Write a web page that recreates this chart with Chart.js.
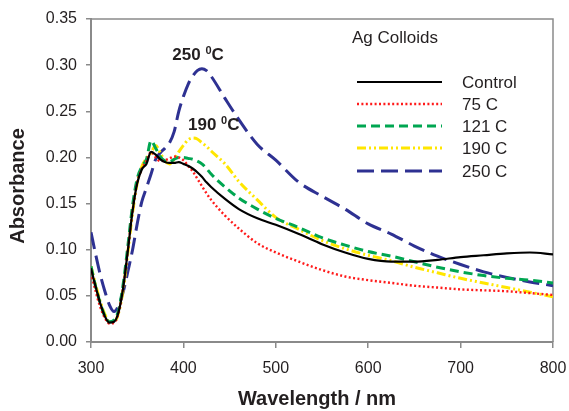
<!DOCTYPE html>
<html>
<head>
<meta charset="utf-8">
<script src="https://cdn.jsdelivr.net/npm/chart.js@4.4.0/dist/chart.umd.min.js"></script>
<style>
  html, body { margin: 0; padding: 0; background: #ffffff; }
  canvas { display: block; }
</style>
</head>
<body>
<canvas id="chart" width="569" height="411"></canvas>
<script>
// Wavelength grid (nm) shared by every spectrum
const wavelengths = [300, 305, 310, 315, 320, 325, 330, 335, 340, 345, 350, 355, 360, 365, 370, 375,
  380, 385, 390, 395, 400, 405, 410, 415, 420, 425, 430, 445, 460, 480, 500, 525, 550, 575, 600,
  625, 650, 675, 700, 725, 750, 775, 800];

// Absorbance of each Ag colloid sample
const control = [0.080, 0.060, 0.042, 0.028, 0.021, 0.022, 0.033, 0.060, 0.100, 0.142, 0.172, 0.187, 0.193,
  0.206, 0.203, 0.198, 0.195, 0.194, 0.194, 0.195, 0.193, 0.191, 0.188, 0.184, 0.179, 0.173, 0.168,
  0.155, 0.144, 0.134, 0.127, 0.117, 0.106, 0.097, 0.090, 0.087, 0.087, 0.089, 0.092, 0.094, 0.096, 0.097, 0.095];
const c75 = [0.075, 0.055, 0.038, 0.026, 0.020, 0.021, 0.032, 0.060, 0.100, 0.142, 0.172, 0.188, 0.196,
  0.206, 0.200, 0.196, 0.197, 0.199, 0.201, 0.200, 0.197, 0.191, 0.185, 0.177, 0.169, 0.161, 0.154,
  0.137, 0.123, 0.107, 0.097, 0.087, 0.078, 0.071, 0.067, 0.064, 0.061, 0.059, 0.057, 0.056, 0.055, 0.053, 0.051];
const c121 = [0.082, 0.060, 0.042, 0.028, 0.022, 0.024, 0.035, 0.064, 0.105, 0.148, 0.177, 0.190, 0.198,
  0.218, 0.210, 0.201, 0.196, 0.195, 0.198, 0.200, 0.200, 0.199, 0.198, 0.196, 0.193, 0.188, 0.182,
  0.168, 0.156, 0.144, 0.134, 0.124, 0.113, 0.105, 0.098, 0.093, 0.087, 0.081, 0.076, 0.072, 0.069, 0.067, 0.064];
const c190 = [0.082, 0.062, 0.044, 0.030, 0.022, 0.022, 0.032, 0.058, 0.098, 0.140, 0.172, 0.190, 0.199,
  0.205, 0.213, 0.205, 0.196, 0.193, 0.198, 0.206, 0.213, 0.219, 0.221, 0.220, 0.216, 0.212, 0.207,
  0.193, 0.174, 0.154, 0.135, 0.122, 0.110, 0.101, 0.094, 0.088, 0.081, 0.075, 0.069, 0.064, 0.059, 0.054, 0.049];
const c250 = [0.119, 0.095, 0.073, 0.055, 0.040, 0.033, 0.040, 0.055, 0.077, 0.100, 0.128, 0.152, 0.167,
  0.182, 0.198, 0.205, 0.210, 0.216, 0.228, 0.250, 0.266, 0.279, 0.288, 0.294, 0.296, 0.294, 0.288,
  0.264, 0.241, 0.214, 0.197, 0.173, 0.158, 0.144, 0.128, 0.117, 0.104, 0.093, 0.084, 0.076, 0.070, 0.065, 0.061];

const seriesNames = ['Control', '75 C', '121 C', '190 C', '250 C'];
const seriesValues = [control, c75, c121, c190, c250];

// Axis ranges and ticks
const xTicks = [300, 400, 500, 600, 700, 800];
const yTicks = [0.00, 0.05, 0.10, 0.15, 0.20, 0.25, 0.30, 0.35];

// Peak labels
const peakLabels = [
  { main: '250 ', sup: '0', unit: 'C', x: 388, y: 0.3055 },
  { main: '190 ', sup: '0', unit: 'C', x: 405, y: 0.2297 }
];

const FONT = "'Liberation Sans', Arial, Helvetica, sans-serif";
const AXIS = '#8a8a8a';
const TEXT = '#231f20';

const styles = [
  { color: '#000000', width: 2.2, dash: [] },
  { color: '#ff1a1a', width: 2.4, dash: [2, 2.4] },
  { color: '#00a651', width: 3, dash: [9, 5] },
  { color: '#ffe600', width: 3, dash: [9, 3, 2, 3, 2, 3] },
  { color: '#2e3192', width: 3, dash: [17, 7] }
];

const datasets = seriesNames.map((name, i) => ({
  label: name,
  data: wavelengths.map((w, j) => ({ x: w, y: seriesValues[i][j] })),
  borderColor: styles[i].color,
  borderWidth: styles[i].width,
  borderDash: styles[i].dash,
  pointRadius: 0,
  fill: false,
  cubicInterpolationMode: 'monotone'
}));

// Frame, axis titles, legend box and peak annotations
const decorations = {
  id: 'decorations',
  beforeDatasetsDraw(chart) {
    const { ctx, chartArea: a } = chart;
    ctx.save();
    ctx.strokeStyle = AXIS;
    ctx.lineWidth = 1.5;
    ctx.beginPath();
    ctx.moveTo(a.left, a.top);
    ctx.lineTo(a.right, a.top);
    ctx.lineTo(a.right, a.bottom);
    ctx.stroke();
    ctx.restore();
  },
  afterDraw(chart) {
    const { ctx, scales } = chart;
    ctx.save();
    ctx.fillStyle = TEXT;

    // axis titles
    ctx.font = 'bold 20px ' + FONT;
    ctx.textAlign = 'center';
    ctx.textBaseline = 'middle';
    ctx.fillText('Wavelength / nm', 317, 399);
    ctx.save();
    ctx.translate(18, 186);
    ctx.rotate(-Math.PI / 2);
    ctx.fillText('Absorbance', 0, 0);
    ctx.restore();

    // legend
    ctx.textAlign = 'left';
    ctx.font = '17px ' + FONT;
    ctx.fillText('Ag Colloids', 352, 38);
    const rows = [82, 104, 126, 148, 171];
    seriesNames.forEach((name, i) => {
      const s = styles[i];
      ctx.save();
      ctx.strokeStyle = s.color;
      ctx.lineWidth = s.width;
      ctx.setLineDash(s.dash);
      ctx.beginPath();
      ctx.moveTo(357, rows[i]);
      ctx.lineTo(442, rows[i]);
      ctx.stroke();
      ctx.restore();
      ctx.fillStyle = TEXT;
      ctx.font = '17px ' + FONT;
      ctx.fillText(name, 462, rows[i] + 1);
    });

    // peak annotations
    ctx.textBaseline = 'alphabetic';
    peakLabels.forEach(p => {
      let x = scales.x.getPixelForValue(p.x);
      const y = scales.y.getPixelForValue(p.y);
      ctx.font = 'bold 17px ' + FONT;
      ctx.fillText(p.main, x, y);
      x += ctx.measureText(p.main).width;
      ctx.font = 'bold 11px ' + FONT;
      ctx.fillText(p.sup, x, y - 6);
      x += ctx.measureText(p.sup).width;
      ctx.font = 'bold 17px ' + FONT;
      ctx.fillText(p.unit, x, y);
    });
    ctx.restore();
  }
};

new Chart(document.getElementById('chart'), {
  type: 'line',
  data: { datasets },
  plugins: [decorations],
  options: {
    responsive: false,
    animation: false,
    devicePixelRatio: 1,
    layout: { padding: { top: 19, right: 16, left: 0, bottom: 0 } },
    plugins: { legend: { display: false }, tooltip: { enabled: false } },
    scales: {
      x: {
        type: 'linear',
        min: xTicks[0],
        max: xTicks[xTicks.length - 1],
        afterBuildTicks(scale) { scale.ticks = xTicks.map(v => ({ value: v })); },
        afterFit(scale) { scale.height = 69; scale.paddingLeft = 0; scale.paddingRight = 0; },
        grid: { drawOnChartArea: false, drawTicks: true, tickLength: 6, color: AXIS, lineWidth: 1.5 },
        border: { display: true, color: AXIS, width: 2 },
        ticks: { color: TEXT, font: { family: FONT, size: 16 }, padding: 11, maxRotation: 0 }
      },
      y: {
        type: 'linear',
        min: yTicks[0],
        max: yTicks[yTicks.length - 1],
        afterBuildTicks(scale) { scale.ticks = yTicks.map(v => ({ value: v })); },
        afterFit(scale) { scale.width = 91; scale.paddingTop = 0; scale.paddingBottom = 0; },
        grid: { drawOnChartArea: false, drawTicks: true, tickLength: 5, color: AXIS, lineWidth: 1.5 },
        border: { display: true, color: AXIS, width: 2 },
        ticks: { color: TEXT, font: { family: FONT, size: 16 }, padding: 9,
          callback: v => v.toFixed(2) }
      }
    }
  }
});
</script>
</body>
</html>
